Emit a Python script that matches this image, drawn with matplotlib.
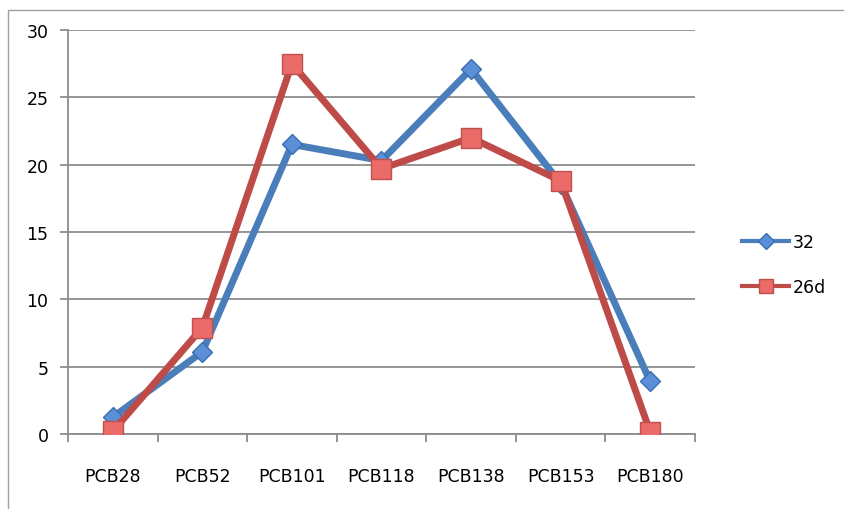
import matplotlib.pyplot as plt
from matplotlib.patches import Rectangle
from matplotlib.lines import Line2D

categories = ['PCB28', 'PCB52', 'PCB101', 'PCB118', 'PCB138', 'PCB153', 'PCB180']
series_32 = [1.25, 6.1, 21.5, 20.3, 27.1, 18.6, 3.9]
series_26d = [0.2, 7.9, 27.5, 19.7, 22.0, 18.8, 0.15]
y_ticks = [0, 5, 10, 15, 20, 25, 30]

fig = plt.figure(figsize=(8.45, 5.1), dpi=100)
fig.patches.append(Rectangle((8 / 845, -0.1), 1.0, 1 - 11 / 510 + 0.1,
                             transform=fig.transFigure, fill=False,
                             edgecolor='#a0a0a0', linewidth=1.0))

ax = fig.add_axes([68 / 845, 1 - 435 / 510, (695 - 68) / 845, (435 - 31) / 510])
x = list(range(len(categories)))

blue_style = dict(color='#4a7ebb', marker='D', markerfacecolor='#5b8fd8',
                  markeredgecolor='#3a6eb0', markeredgewidth=1)
red_style = dict(color='#be4b48', marker='s', markerfacecolor='#ea6b68',
                 markeredgecolor='#c0504d', markeredgewidth=1)

ax.plot(x, series_32, linewidth=5, markersize=10, zorder=3, **blue_style)
ax.plot(x, series_26d, linewidth=5, markersize=15, zorder=4, **red_style)

ax.set_xlim(-0.5, len(categories) - 0.5)
ax.set_ylim(0, 30)
ax.set_yticks(y_ticks)
ax.set_yticklabels([str(t) for t in y_ticks], fontsize=12.5)
ax.yaxis.grid(True, color='#8c8c8c', linewidth=1.3)
ax.set_axisbelow(True)

ax.set_xticks(x)
ax.set_xticklabels(categories, fontsize=12.5)
ax.set_xticks([i - 0.5 for i in range(len(categories) + 1)], minor=True)
ax.tick_params(axis='x', which='major', length=0, pad=24)
ax.tick_params(axis='x', which='minor', length=6, color='#8c8c8c', width=1.3)
ax.tick_params(axis='y', length=6, color='#8c8c8c', width=1.3, pad=8)

for side in ['top', 'right']:
    ax.spines[side].set_visible(False)
for side in ['left', 'bottom']:
    ax.spines[side].set_color('#8c8c8c')
    ax.spines[side].set_linewidth(1.3)

handles = [Line2D([], [], linewidth=3, markersize=8, **blue_style),
           Line2D([], [], linewidth=3, markersize=10, **red_style)]
ax.legend(handles, ['32', '26d'], loc='center left',
          bbox_to_anchor=(1.064, 0.42), frameon=False, borderaxespad=0,
          fontsize=12.5, handlelength=2.7, labelspacing=1.55, handletextpad=0.2)

fig.savefig('out.png', dpi=100)
